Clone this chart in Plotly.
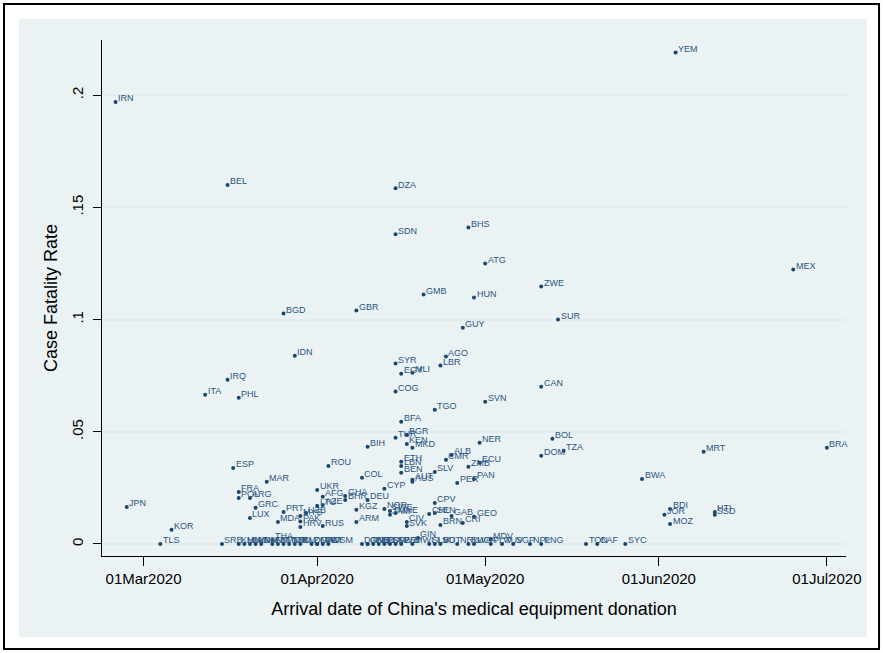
import plotly.graph_objects as go

# ISO3 country code, arrival date of the donation, case fatality rate
codes = [
    "IRN", "YEM", "BEL", "DZA", "BHS", "SDN", "ATG", "MEX", "ZWE", "GMB",
    "HUN", "GBR", "BGD", "SUR", "GUY", "IDN", "AGO", "LBR", "SYR", "EGY",
    "MLI", "IRQ", "COG", "CAN", "ITA", "PHL", "SVN", "TGO", "BFA", "TUR",
    "BGR", "KEN", "MKD", "BIH", "NER", "BOL", "TZA", "DOM", "MRT", "BRA",
    "ALB", "CMR", "ETH", "ECU", "ZMB", "LBN", "ROU", "ESP", "SLV", "BEN",
    "AUT", "AUS", "PER", "PAN", "BWA", "COL", "MAR", "UKR", "CYP", "FRA",
    "GHA", "AFG", "POL", "ARG", "BHR", "DEU", "CPV", "LTU", "AZE", "JPN",
    "GRC", "NOR", "KGZ", "PRT", "SWE", "UZB", "MNE", "HTI", "SSD", "JAM",
    "BDI", "JOR", "MYS", "GAB", "GEO", "CHL", "SEN", "LUX", "MDA", "ARM",
    "CIV", "CRI", "PAK", "RUS", "MOZ", "BRN", "SVK", "HRV", "KOR", "GIN",
    "THA", "MDV", "TLS",
    "SRB", "KHM", "MNG", "LAO", "VNM", "NAM", "FJI", "BTN", "MMR", "TJK",
    "TKM", "BLZ", "DMA", "GRD", "LCA", "VCT", "WSM", "DJI", "GNB", "GNQ",
    "BRB", "TCD", "FSM", "STP", "SWZ", "ERI", "MWI", "SLB", "LSO", "VUT",
    "NRU", "RWA", "UGA", "PLW", "TUV", "SGP", "NPL", "PNG", "TON", "CAF",
    "SYC",
]

arrival_dates = [
    "2020-02-25", "2020-06-04", "2020-03-16", "2020-04-15", "2020-04-28",
    "2020-04-15", "2020-05-01", "2020-06-25", "2020-05-11", "2020-04-20",
    "2020-04-29", "2020-04-08", "2020-03-26", "2020-05-14", "2020-04-27",
    "2020-03-28", "2020-04-24", "2020-04-23", "2020-04-15", "2020-04-16",
    "2020-04-18", "2020-03-16", "2020-04-15", "2020-05-11", "2020-03-12",
    "2020-03-18", "2020-05-01", "2020-04-22", "2020-04-16", "2020-04-15",
    "2020-04-17", "2020-04-17", "2020-04-18", "2020-04-10", "2020-04-30",
    "2020-05-13", "2020-05-15", "2020-05-11", "2020-06-09", "2020-07-01",
    "2020-04-25", "2020-04-24", "2020-04-16", "2020-04-30", "2020-04-28",
    "2020-04-16", "2020-04-03", "2020-03-17", "2020-04-22", "2020-04-16",
    "2020-04-18", "2020-04-18", "2020-04-26", "2020-04-29", "2020-05-29",
    "2020-04-09", "2020-03-23", "2020-04-01", "2020-04-13", "2020-03-18",
    "2020-04-06", "2020-04-02", "2020-03-18", "2020-03-20", "2020-04-06",
    "2020-04-10", "2020-04-22", "2020-04-01", "2020-04-02", "2020-02-27",
    "2020-03-21", "2020-04-13", "2020-04-08", "2020-03-26", "2020-04-14",
    "2020-03-30", "2020-04-15", "2020-06-11", "2020-06-11", "2020-04-14",
    "2020-06-03", "2020-06-02", "2020-03-29", "2020-04-25", "2020-04-29",
    "2020-04-21", "2020-04-22", "2020-03-20", "2020-03-25", "2020-04-08",
    "2020-04-17", "2020-04-27", "2020-03-29", "2020-04-02", "2020-06-03",
    "2020-04-23", "2020-04-17", "2020-03-29", "2020-03-06", "2020-04-19",
    "2020-03-24", "2020-05-02", "2020-03-04",
    "2020-03-15", "2020-03-18", "2020-03-19", "2020-03-20", "2020-03-21",
    "2020-03-22", "2020-03-24", "2020-03-25", "2020-03-26", "2020-03-27",
    "2020-03-28", "2020-03-29", "2020-03-31", "2020-04-01", "2020-04-01",
    "2020-04-02", "2020-04-03", "2020-04-09", "2020-04-10", "2020-04-10",
    "2020-04-11", "2020-04-12", "2020-04-13", "2020-04-14", "2020-04-15",
    "2020-04-16", "2020-04-18", "2020-04-21", "2020-04-22", "2020-04-23",
    "2020-04-26", "2020-04-28", "2020-04-29", "2020-05-02", "2020-05-04",
    "2020-05-06", "2020-05-09", "2020-05-11", "2020-05-19", "2020-05-21",
    "2020-05-26",
]

fatality_rates = [
    0.197, 0.219, 0.160, 0.1585, 0.141, 0.138, 0.125, 0.1223, 0.1147, 0.1112,
    0.1098, 0.104, 0.1027, 0.100, 0.0964, 0.0839, 0.0835, 0.0795, 0.0804, 0.0759,
    0.0763, 0.0732, 0.0679, 0.0701, 0.0665, 0.0652, 0.0634, 0.0598, 0.0545, 0.0473,
    0.0487, 0.0446, 0.0429, 0.0433, 0.0451, 0.0469, 0.0415, 0.0393, 0.0411, 0.0429,
    0.0397, 0.0375, 0.0366, 0.0362, 0.0344, 0.0348, 0.0348, 0.0339, 0.0321, 0.0317,
    0.0286, 0.0277, 0.0272, 0.0290, 0.0290, 0.0295, 0.0277, 0.0241, 0.0246, 0.0232,
    0.0214, 0.0210, 0.0205, 0.0205, 0.0196, 0.0196, 0.0183, 0.0170, 0.0174, 0.0165,
    0.0161, 0.0156, 0.0152, 0.0143, 0.0147, 0.0138, 0.0138, 0.0143, 0.0130, 0.0130,
    0.0156, 0.0130, 0.0125, 0.0125, 0.0121, 0.0134, 0.0138, 0.0116, 0.0098, 0.0098,
    0.0098, 0.0094, 0.0100, 0.0080, 0.0089, 0.0085, 0.0080, 0.0076, 0.0063, 0.0027,
    0.0018, 0.0022, 0.0,
    0.0, 0.0, 0.0, 0.0, 0.0, 0.0, 0.0, 0.0, 0.0, 0.0,
    0.0, 0.0, 0.0, 0.0, 0.0, 0.0, 0.0, 0.0, 0.0, 0.0,
    0.0, 0.0, 0.0, 0.0, 0.0, 0.0, 0.0, 0.0, 0.0, 0.0,
    0.0, 0.0, 0.0, 0.0, 0.0, 0.0, 0.0, 0.0, 0.0, 0.0,
    0.0,
]

x_tick_dates = ["2020-03-01", "2020-04-01", "2020-05-01", "2020-06-01", "2020-07-01"]
x_tick_labels = ["01Mar2020", "01Apr2020", "01May2020", "01Jun2020", "01Jul2020"]
y_tick_values = [0, 0.05, 0.1, 0.15, 0.2]
y_tick_labels = ["0", ".05", ".1", ".15", ".2"]

NAVY = "#1a476f"
LABEL_BLUE = "#2b5583"
BG = "#eaf2f3"
FONT = "Liberation Sans, Arial, sans-serif"

fig = go.Figure(
    go.Scatter(
        x=arrival_dates,
        y=fatality_rates,
        mode="markers",
        text=codes,
        marker=dict(size=4, color=NAVY),
        cliponaxis=False,
        hoverinfo="x+y+text",
    )
)

# marker labels at 3 o'clock, baseline level with the marker
label_annotations = [
    dict(x=d, y=v, xref="x", yref="y", text=c, showarrow=False,
         xanchor="left", yanchor="middle", xshift=1.5, yshift=3.5,
         borderpad=0, font=dict(family=FONT, size=9, color=LABEL_BLUE))
    for c, d, v in zip(codes, arrival_dates, fatality_rates)
]

fig.update_layout(
    width=883,
    height=653,
    autosize=False,
    margin=dict(l=102, r=37, t=40, b=97),
    paper_bgcolor="white",
    plot_bgcolor="white",
    showlegend=False,
    font=dict(family=FONT, color="black"),
    annotations=label_annotations,
    shapes=[
        # graph region background
        dict(type="rect", xref="paper", yref="paper",
             x0=-0.1116, x1=1.0282, y0=-0.157, y1=1.0407,
             fillcolor=BG, line=dict(width=0), layer="below"),
        # outer frame
        dict(type="rect", xref="paper", yref="paper",
             x0=-0.1317, x1=1.0444, y0=-0.1802, y1=1.0698,
             line=dict(color="black", width=2), fillcolor="rgba(0,0,0,0)",
             layer="above"),
    ],
)

fig.update_xaxes(
    range=["2020-02-22 14:00", "2020-07-04 10:00"],
    tickmode="array",
    tickvals=x_tick_dates,
    ticktext=x_tick_labels,
    ticks="outside",
    ticklen=9,
    tickwidth=1,
    tickcolor="black",
    tickfont=dict(family=FONT, size=15, color="black"),
    showline=True,
    linecolor="black",
    linewidth=1,
    showgrid=False,
    zeroline=False,
    title=dict(text="Arrival date of China's medical equipment donation",
               font=dict(family=FONT, size=18, color="black"), standoff=16),
)

fig.update_yaxes(
    range=[-0.00536, 0.2246],
    tickmode="array",
    tickvals=y_tick_values,
    ticktext=y_tick_labels,
    tickangle=-90,
    ticks="outside",
    ticklen=8,
    tickwidth=1,
    tickcolor="black",
    tickfont=dict(family=FONT, size=15, color="black"),
    ticklabelstandoff=4,
    showline=True,
    linecolor="black",
    linewidth=1,
    showgrid=True,
    gridcolor="#e2ecef",
    gridwidth=1.5,
    zeroline=False,
    title=dict(text="Case Fatality Rate",
               font=dict(family=FONT, size=18, color="black"), standoff=6),
)

fig.write_html("out.html")
